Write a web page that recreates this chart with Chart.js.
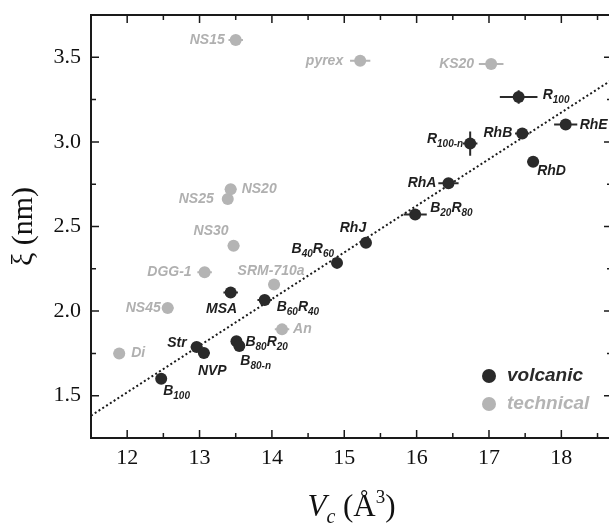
<!DOCTYPE html>
<html>
<head>
<meta charset="utf-8">
<script src="https://cdn.jsdelivr.net/npm/chart.js@4"></script>
<style>
  html, body { margin: 0; padding: 0; background: #fff; overflow: hidden; }
  #wrap { width: 625px; height: 523px; }
</style>
</head>
<body>
<div id="wrap"><canvas id="chart" width="625" height="523"></canvas></div>
<script>
// volcanic glasses
const volcNames = ['B_{100}', 'Str', 'NVP', 'MSA', 'B_{80}R_{20}', 'B_{80-n}', 'B_{60}R_{40}', 'B_{40}R_{60}', 'RhJ', 'B_{20}R_{80}', 'RhA', 'R_{100-n}', 'RhB', 'RhD', 'R_{100}', 'RhE'];
const volcX = [12.47, 12.96, 13.06, 13.43, 13.51, 13.55, 13.90, 14.90, 15.30, 15.98, 16.44, 16.74, 17.46, 17.61, 17.41, 18.06];
const volcY = [1.600, 1.788, 1.752, 2.110, 1.822, 1.794, 2.065, 2.285, 2.404, 2.571, 2.755, 2.990, 3.049, 2.882, 3.265, 3.103];
const volcErrX = [0.06, 0.08, 0.08, 0.10, 0.06, 0.06, 0.10, 0.06, 0.07, 0.16, 0.14, 0.10, 0.10, 0.08, 0.26, 0.16];
const volcErrY = [0.02, 0.03, 0.03, 0.03, 0.03, 0.03, 0.03, 0.02, 0.03, 0.03, 0.02, 0.072, 0.03, 0.03, 0.04, 0.02];

// technical glasses
const techNames = ['Di', 'NS45', 'DGG-1', 'NS30', 'NS25', 'NS20', 'NS15', 'SRM-710a', 'An', 'pyrex', 'KS20'];
const techX = [11.89, 12.56, 13.07, 13.47, 13.39, 13.43, 13.50, 14.03, 14.14, 15.22, 17.03];
const techY = [1.749, 2.018, 2.229, 2.386, 2.663, 2.720, 3.602, 2.157, 1.892, 3.480, 3.461];
const techErrX = [0.08, 0.08, 0.10, 0.08, 0.05, 0.08, 0.10, 0.08, 0.10, 0.14, 0.17];
const techErrY = [0.02, 0.02, 0.02, 0.03, 0.02, 0.03, 0.03, 0.02, 0.02, 0.01, 0.01];

// dotted linear fit, end points
const fitX = [11.5, 18.7];
const fitY = [1.382, 3.367];

const xTicks = [12, 13, 14, 15, 16, 17, 18];
const yTicks = [1.5, 2.0, 2.5, 3.0, 3.5];

const DARK = '#2a2a2a';
const GREY = '#b4b4b4';
const SERIF = '"Liberation Serif", "Times New Roman", serif';

// where each label sits relative to its point (px)
const labelPos = {
    'B_{100}': [2, 12, 'left'], 'Str': [-10, -4, 'right'], 'NVP': [-6, 18, 'left'],
    'MSA': [-9, 17, 'center'], 'B_{80}R_{20}': [9, 1, 'left'], 'B_{80-n}': [1, 15, 'left'],
    'B_{60}R_{40}': [12, 7, 'left'], 'B_{40}R_{60}': [-3, -14, 'right'], 'RhJ': [-13, -15, 'center'],
    'B_{20}R_{80}': [15, -6, 'left'], 'RhA': [-12, 0, 'right'], 'R_{100-n}': [-7, -4, 'right'],
    'RhB': [-10, 0, 'right'], 'RhD': [4, 9, 'left'], 'R_{100}': [24, -2, 'left'], 'RhE': [14, 1, 'left'],
    'Di': [12, 0, 'left'], 'NS45': [-7, 0, 'right'], 'DGG-1': [-13, 0, 'right'], 'NS30': [-5, -15, 'right'],
    'NS25': [-14, 0, 'right'], 'NS20': [11, 0, 'left'], 'NS15': [-11, 0, 'right'],
    'SRM-710a': [-3, -13, 'center'], 'An': [11, 0, 'left'], 'pyrex': [-17, 0, 'right'], 'KS20': [-17, 0, 'right']
};

function toPoints(xs, ys) {
    return xs.map((x, i) => ({ x: x, y: ys[i] }));
}

// label text with _{...} subscripts
function drawRich(ctx, text, x, y, align, color) {
    const mainFont = 'italic 700 14px "Liberation Sans", Arial, sans-serif';
    const subFont = 'italic 700 10px "Liberation Sans", Arial, sans-serif';
    const parts = [];
    const re = /_\{([^}]*)\}/g;
    let last = 0, m;
    while ((m = re.exec(text)) !== null) {
        if (m.index > last) parts.push({ t: text.slice(last, m.index), sub: false });
        parts.push({ t: m[1], sub: true });
        last = re.lastIndex;
    }
    if (last < text.length) parts.push({ t: text.slice(last), sub: false });

    let total = 0;
    parts.forEach(p => {
        ctx.font = p.sub ? subFont : mainFont;
        p.w = ctx.measureText(p.t).width;
        total += p.w;
    });
    let cx = x;
    if (align === 'right') cx = x - total;
    if (align === 'center') cx = x - total / 2;

    ctx.fillStyle = color;
    ctx.textAlign = 'left';
    ctx.textBaseline = 'middle';
    parts.forEach(p => {
        ctx.font = p.sub ? subFont : mainFont;
        ctx.fillText(p.t, cx, p.sub ? y + 5 : y);
        cx += p.w;
    });
}

const errorBars = {
    id: 'errorBars',
    beforeDatasetDraw(chart, args) {
        const ds = chart.data.datasets[args.index];
        if (!ds.errX) return;
        const ctx = chart.ctx;
        const xs = chart.scales.x, ys = chart.scales.y;
        ctx.save();
        ctx.strokeStyle = ds.backgroundColor;
        ctx.lineWidth = 2;
        ds.data.forEach((p, i) => {
            const px = xs.getPixelForValue(p.x), py = ys.getPixelForValue(p.y);
            ctx.beginPath();
            ctx.moveTo(xs.getPixelForValue(p.x - ds.errX[i]), py);
            ctx.lineTo(xs.getPixelForValue(p.x + ds.errX[i]), py);
            ctx.moveTo(px, ys.getPixelForValue(p.y - ds.errY[i]));
            ctx.lineTo(px, ys.getPixelForValue(p.y + ds.errY[i]));
            ctx.stroke();
        });
        ctx.restore();
    }
};

const decorations = {
    id: 'decorations',
    afterDatasetsDraw(chart) {
        const ctx = chart.ctx;
        ctx.save();
        chart.data.datasets.forEach((ds, di) => {
            if (!ds.names) return;
            const meta = chart.getDatasetMeta(di);
            ds.names.forEach((name, i) => {
                const pos = labelPos[name] || [10, 0, 'left'];
                const el = meta.data[i];
                drawRich(ctx, name, el.x + pos[0], el.y + pos[1], pos[2], ds.labelColor);
            });
        });
        ctx.restore();
    },
    afterDraw(chart) {
        const ctx = chart.ctx;
        const a = chart.chartArea;
        const xs = chart.scales.x, ys = chart.scales.y;
        ctx.save();

        // frame
        ctx.strokeStyle = '#1a1a1a';
        ctx.lineWidth = 2;
        ctx.strokeRect(a.left, a.top, a.right - a.left, a.bottom - a.top);

        // inward ticks on all four sides
        ctx.lineWidth = 1.5;
        ctx.beginPath();
        for (let v = 11.5; v <= 18.7; v += 0.5) {
            const px = xs.getPixelForValue(v);
            const len = Number.isInteger(v) ? 8 : 5;
            ctx.moveTo(px, a.bottom); ctx.lineTo(px, a.bottom - len);
            ctx.moveTo(px, a.top); ctx.lineTo(px, a.top + len);
        }
        for (let v = 1.25; v <= 3.75; v += 0.25) {
            const py = ys.getPixelForValue(v);
            const len = (v * 2) % 1 === 0 ? 8 : 5;
            ctx.moveTo(a.left, py); ctx.lineTo(a.left + len, py);
            ctx.moveTo(a.right, py); ctx.lineTo(a.right - len, py);
        }
        ctx.stroke();

        // legend
        const items = [['volcanic', DARK, 376], ['technical', GREY, 404]];
        items.forEach(it => {
            ctx.fillStyle = it[1];
            ctx.beginPath();
            ctx.arc(489, it[2], 7, 0, Math.PI * 2);
            ctx.fill();
            ctx.font = 'italic 700 19px "Liberation Sans", Arial, sans-serif';
            ctx.textAlign = 'left';
            ctx.textBaseline = 'middle';
            ctx.fillText(it[0], 507, it[2]);
        });

        // x axis title: V_c (Å^3)
        const pieces = [
            ['V', 'italic 31px ' + SERIF, 0],
            ['c', 'italic 20px ' + SERIF, 7],
            [' (Å', '31px ' + SERIF, 0],
            ['3', '19px ' + SERIF, -13],
            [')', '31px ' + SERIF, 0]
        ];
        let w = 0;
        pieces.forEach(p => { ctx.font = p[1]; p.push(ctx.measureText(p[0]).width); w += p[3]; });
        let tx = (a.left + a.right) / 2 - w / 2;
        ctx.fillStyle = '#111';
        ctx.textAlign = 'left';
        ctx.textBaseline = 'alphabetic';
        pieces.forEach(p => {
            ctx.font = p[1];
            ctx.fillText(p[0], tx, 516 + p[2]);
            tx += p[3];
        });

        ctx.restore();
    }
};

const ctx = document.getElementById('chart').getContext('2d');
new Chart(ctx, {
    type: 'scatter',
    data: {
        datasets: [
            {
                label: 'volcanic',
                data: toPoints(volcX, volcY),
                names: volcNames, errX: volcErrX, errY: volcErrY,
                backgroundColor: DARK, borderColor: DARK, labelColor: '#1e1e1e',
                pointRadius: 6, pointHoverRadius: 6, borderWidth: 0
            },
            {
                label: 'technical',
                data: toPoints(techX, techY),
                names: techNames, errX: techErrX, errY: techErrY,
                backgroundColor: GREY, borderColor: GREY, labelColor: '#b0b0b0',
                pointRadius: 6, pointHoverRadius: 6, borderWidth: 0
            },
            {
                label: 'fit',
                type: 'line',
                data: toPoints(fitX, fitY),
                borderColor: '#1a1a1a', borderWidth: 2, borderDash: [2, 2.5],
                pointRadius: 0, fill: false
            }
        ]
    },
    options: {
        responsive: false,
        animation: false,
        events: [],
        layout: { padding: { left: 0, right: 13, top: 15, bottom: 0 } },
        plugins: { legend: { display: false }, tooltip: { enabled: false } },
        scales: {
            x: {
                type: 'linear', min: 11.5, max: 18.7,
                grid: { display: false, drawTicks: false },
                border: { display: false },
                afterBuildTicks: s => { s.ticks = xTicks.map(v => ({ value: v })); },
                afterFit: s => { s.height = 85; s.paddingLeft = 0; s.paddingRight = 0; },
                ticks: {
                    padding: 7, color: '#111', maxRotation: 0,
                    font: { family: SERIF, size: 22 },
                    callback: v => String(v)
                }
            },
            y: {
                type: 'linear', min: 1.25, max: 3.75,
                grid: { display: false, drawTicks: false },
                border: { display: false },
                afterBuildTicks: s => { s.ticks = yTicks.map(v => ({ value: v })); },
                afterFit: s => { s.width = 91; s.paddingTop = 0; s.paddingBottom = 0; },
                title: {
                    display: true, text: 'ξ (nm)', color: '#111', padding: { top: 6, bottom: 0 },
                    font: { family: SERIF, size: 30 }
                },
                ticks: {
                    padding: 10, color: '#111',
                    font: { family: SERIF, size: 22 },
                    callback: v => Number(v).toFixed(1)
                }
            }
        }
    },
    plugins: [errorBars, decorations]
});
</script>
</body>
</html>
